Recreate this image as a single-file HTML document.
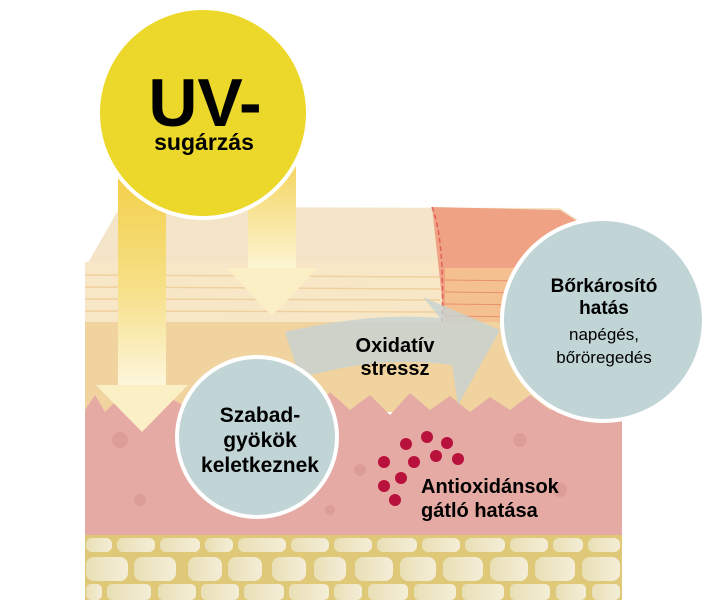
<!DOCTYPE html>
<html><head><meta charset="utf-8"><style>
html,body{margin:0;padding:0;background:#fff;width:710px;height:600px;overflow:hidden}
svg{display:block}
text{font-family:"Liberation Sans","DejaVu Sans",sans-serif}
</style></head><body>
<svg width="710" height="600" viewBox="0 0 710 600" xmlns="http://www.w3.org/2000/svg">
<defs>
<linearGradient id="ya" x1="0" y1="0" x2="0" y2="1">
<stop offset="0" stop-color="#f3cc3a"/><stop offset="0.6" stop-color="#f6e08a"/><stop offset="1" stop-color="#fdf6dc"/></linearGradient>
<linearGradient id="yb" x1="0" y1="0" x2="0" y2="1">
<stop offset="0" stop-color="#f3d050"/><stop offset="1" stop-color="#fdf5d6"/></linearGradient>
<linearGradient id="cell" x1="0" y1="0" x2="1" y2="0">
<stop offset="0" stop-color="#e9dfb5"/><stop offset="1" stop-color="#f4eed8"/></linearGradient>
</defs>
<polygon points="85,268 120,207 560,208 622,250 622,268" fill="#f4e4c8"/>
<rect x="85" y="262" width="537" height="62" fill="#f8e7c6"/>
<g stroke="#efcf9c" stroke-width="1.4">
<line x1="85" y1="275" x2="440" y2="277"/><line x1="85" y1="287" x2="440" y2="289"/>
<line x1="85" y1="299" x2="440" y2="300"/><line x1="85" y1="311" x2="440" y2="312"/>
</g>
<polygon points="432,207 560,210 622,250 622,325 445,325 440,280" fill="#f0a384"/>
<rect x="445" y="268" width="177" height="57" fill="#f5c08f"/>
<g stroke="#e88f72" stroke-width="1"><line x1="445" y1="280" x2="620" y2="282"/><line x1="445" y1="292" x2="620" y2="294"/><line x1="445" y1="304" x2="620" y2="306"/><line x1="445" y1="316" x2="620" y2="318"/></g>
<path d="M432,207 Q445,240 442,325" stroke="#e2605a" stroke-width="1.5" stroke-dasharray="5,3" fill="none"/>
<rect x="85" y="322" width="537" height="90" fill="#f1d39f"/>
<path d="M85,410 L95,395 105,412 125,392 145,410 170,398 195,412 230,398 265,412 290,400 310,415 330,392 350,410 370,395 390,415 410,393 430,410 450,396 470,412 490,397 510,410 530,395 550,410 575,396 600,408 622,398 L622,540 L85,540 Z" fill="#e4aaa3"/>
<g fill="#d68f8c" opacity="0.5"><circle cx="120" cy="440" r="8"/><circle cx="140" cy="500" r="6"/><circle cx="360" cy="470" r="6"/><circle cx="520" cy="440" r="7"/><circle cx="560" cy="490" r="7"/><circle cx="480" cy="510" r="5"/><circle cx="330" cy="510" r="5"/></g>
<rect x="85" y="535" width="537" height="65" fill="#dfc878"/>
<g fill="url(#cell)">
<rect x="86" y="538" width="26" height="14" rx="6"/><rect x="117" y="538" width="38" height="14" rx="6"/><rect x="160" y="538" width="40" height="14" rx="6"/><rect x="205" y="538" width="28" height="14" rx="6"/><rect x="238" y="538" width="48" height="14" rx="6"/><rect x="291" y="538" width="38" height="14" rx="6"/><rect x="334" y="538" width="38" height="14" rx="6"/><rect x="377" y="538" width="40" height="14" rx="6"/><rect x="422" y="538" width="38" height="14" rx="6"/><rect x="465" y="538" width="40" height="14" rx="6"/><rect x="510" y="538" width="38" height="14" rx="6"/><rect x="553" y="538" width="30" height="14" rx="6"/><rect x="588" y="538" width="32" height="14" rx="6"/>
<rect x="86" y="557" width="42" height="24" rx="8"/><rect x="134" y="557" width="42" height="24" rx="8"/><rect x="188" y="557" width="34" height="24" rx="8"/><rect x="228" y="557" width="34" height="24" rx="8"/><rect x="272" y="557" width="34" height="24" rx="8"/><rect x="314" y="557" width="32" height="24" rx="8"/><rect x="355" y="557" width="38" height="24" rx="8"/><rect x="400" y="557" width="36" height="24" rx="8"/><rect x="443" y="557" width="40" height="24" rx="8"/><rect x="490" y="557" width="38" height="24" rx="8"/><rect x="535" y="557" width="40" height="24" rx="8"/><rect x="582" y="557" width="38" height="24" rx="8"/>
<rect x="86" y="584" width="16" height="16" rx="5"/><rect x="107" y="584" width="44" height="16" rx="5"/><rect x="158" y="584" width="38" height="16" rx="5"/><rect x="201" y="584" width="38" height="16" rx="5"/><rect x="244" y="584" width="40" height="16" rx="5"/><rect x="289" y="584" width="40" height="16" rx="5"/><rect x="334" y="584" width="28" height="16" rx="5"/><rect x="368" y="584" width="40" height="16" rx="5"/><rect x="414" y="584" width="42" height="16" rx="5"/><rect x="462" y="584" width="42" height="16" rx="5"/><rect x="510" y="584" width="40" height="16" rx="5"/><rect x="556" y="584" width="30" height="16" rx="5"/><rect x="592" y="584" width="28" height="16" rx="5"/>
</g>
<path d="M285,332 Q370,312 440,318 L423,297 L500,330 L458,405 L452,365 Q380,355 300,378 Z" fill="#c6d2d2" opacity="0.8"/>
<rect x="118" y="150" width="48" height="236" fill="url(#ya)"/>
<polygon points="96,385 188,385 142,432" fill="#fbefc6"/>
<rect x="248" y="150" width="48" height="120" fill="url(#yb)"/>
<polygon points="226,268 318,268 272,316" fill="#fbefc6"/>
<circle cx="203" cy="113" r="105" fill="#ecd82a" stroke="#fff" stroke-width="4"/>
<text x="205" y="126" font-size="68" font-weight="bold" text-anchor="middle" fill="#000">UV-</text>
<text x="204" y="150" font-size="23" font-weight="bold" text-anchor="middle" fill="#000">sugárzás</text>
<text x="395" y="352" font-size="20" font-weight="bold" text-anchor="middle" fill="#000">Oxidatív</text>
<text x="395" y="375" font-size="20" font-weight="bold" text-anchor="middle" fill="#000">stressz</text>
<circle cx="257" cy="437" r="80" fill="#c1d4d6" stroke="#fff" stroke-width="4"/>
<text x="260" y="422" font-size="21" font-weight="bold" text-anchor="middle">Szabad-</text>
<text x="260" y="447" font-size="21" font-weight="bold" text-anchor="middle">gyökök</text>
<text x="260" y="472" font-size="21" font-weight="bold" text-anchor="middle">keletkeznek</text>
<circle cx="603" cy="320" r="101" fill="#c1d4d6" stroke="#fff" stroke-width="4"/>
<text x="604" y="292" font-size="19" font-weight="bold" text-anchor="middle">Bőrkárosító</text>
<text x="604" y="314" font-size="19" font-weight="bold" text-anchor="middle">hatás</text>
<text x="604" y="340" font-size="17" text-anchor="middle">napégés,</text>
<text x="604" y="363" font-size="17" text-anchor="middle">bőröregedés</text>
<g fill="#b8113c">
<circle cx="406" cy="444" r="6"/><circle cx="427" cy="437" r="6"/><circle cx="447" cy="443" r="6"/><circle cx="384" cy="462" r="6"/><circle cx="414" cy="462" r="6"/><circle cx="436" cy="456" r="6"/><circle cx="458" cy="459" r="6"/><circle cx="401" cy="478" r="6"/><circle cx="384" cy="486" r="6"/><circle cx="395" cy="500" r="6"/>
</g>
<text x="421" y="493" font-size="20" font-weight="bold">Antioxidánsok</text>
<text x="421" y="517" font-size="20" font-weight="bold">gátló hatása</text>
</svg>
</body></html>
